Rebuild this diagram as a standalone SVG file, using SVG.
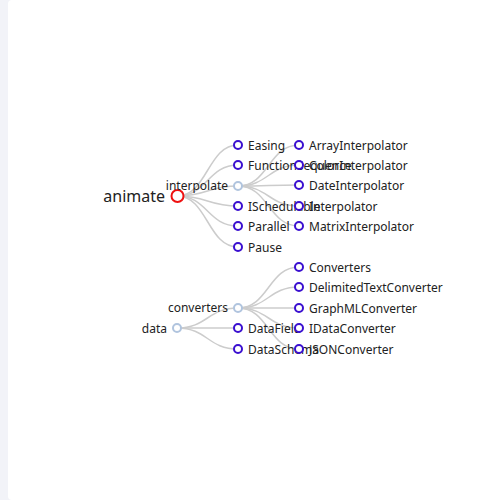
<svg xmlns="http://www.w3.org/2000/svg" width="500" height="500" viewBox="0 0 500 500">
<style>
.e{fill:none;stroke:#cccccc;stroke-width:1.5}
.leaf{fill:#fff;stroke:#3a0fd0;stroke-width:2}
.inner{fill:#fff;stroke:#b0c4de;stroke-width:2}
.root{fill:#fff;stroke:#ee1111;stroke-width:2}
text{font-family:"Noto Sans","Liberation Sans",sans-serif;font-size:12px;fill:#222;dominant-baseline:central}
.l{text-anchor:end}
</style>
<rect x="0" y="0" width="500" height="500" fill="#f2f3f8"/>
<rect x="8" y="0" width="500" height="500" rx="4" fill="#ffffff"/>
<g id="connectors">
<path class="e" d="M177,196 C207.5,196 207.5,145 238,145"/>
<path class="e" d="M177,196 C207.5,196 207.5,165 238,165"/>
<path class="e" d="M177,196 C207.5,196 207.5,186 238,186"/>
<path class="e" d="M177,196 C207.5,196 207.5,206 238,206"/>
<path class="e" d="M177,196 C207.5,196 207.5,226 238,226"/>
<path class="e" d="M177,196 C207.5,196 207.5,247 238,247"/>
<path class="e" d="M238,186 C268.5,186 268.5,145 299,145"/>
<path class="e" d="M238,186 C268.5,186 268.5,165 299,165"/>
<path class="e" d="M238,186 C268.5,186 268.5,185 299,185"/>
<path class="e" d="M238,186 C268.5,186 268.5,206 299,206"/>
<path class="e" d="M238,186 C268.5,186 268.5,226 299,226"/>
<path class="e" d="M177,328 C207.5,328 207.5,308 238,308"/>
<path class="e" d="M177,328 C207.5,328 207.5,328 238,328"/>
<path class="e" d="M177,328 C207.5,328 207.5,349 238,349"/>
<path class="e" d="M238,308 C268.5,308 268.5,267 299,267"/>
<path class="e" d="M238,308 C268.5,308 268.5,287 299,287"/>
<path class="e" d="M238,308 C268.5,308 268.5,308 299,308"/>
<path class="e" d="M238,308 C268.5,308 268.5,328 299,328"/>
<path class="e" d="M238,308 C268.5,308 268.5,349 299,349"/>
</g>
<g id="animate"><circle class="root" cx="177.5" cy="196" r="6"/><text class="l" x="165" y="196" style="font-size:16px">animate</text></g>
<g id="Easing"><circle class="leaf" cx="238" cy="145" r="4"/><text x="248" y="145">Easing</text></g>
<g id="FunctionSequence"><circle class="leaf" cx="238" cy="165" r="4"/><text x="248" y="165">FunctionSequence</text></g>
<g id="interpolate"><circle class="inner" cx="238" cy="186" r="4"/><text class="l" x="228" y="185">interpolate</text></g>
<g id="ISchedulable"><circle class="leaf" cx="238" cy="206" r="4"/><text x="248" y="206">ISchedulable</text></g>
<g id="Parallel"><circle class="leaf" cx="238" cy="226" r="4"/><text x="248" y="226">Parallel</text></g>
<g id="Pause"><circle class="leaf" cx="238" cy="247" r="4"/><text x="248" y="247">Pause</text></g>
<g id="ArrayInterpolator"><circle class="leaf" cx="299" cy="145" r="4"/><text x="309" y="145">ArrayInterpolator</text></g>
<g id="ColorInterpolator"><circle class="leaf" cx="299" cy="165" r="4"/><text x="309" y="165">ColorInterpolator</text></g>
<g id="DateInterpolator"><circle class="leaf" cx="299" cy="185" r="4"/><text x="309" y="185">DateInterpolator</text></g>
<g id="Interpolator"><circle class="leaf" cx="299" cy="206" r="4"/><text x="309" y="206">Interpolator</text></g>
<g id="MatrixInterpolator"><circle class="leaf" cx="299" cy="226" r="4"/><text x="309" y="226">MatrixInterpolator</text></g>
<g id="data"><circle class="inner" cx="177" cy="328" r="4"/><text class="l" x="167" y="328">data</text></g>
<g id="converters"><circle class="inner" cx="238" cy="308" r="4"/><text class="l" x="228" y="307">converters</text></g>
<g id="DataField"><circle class="leaf" cx="238" cy="328" r="4"/><text x="248" y="328">DataField</text></g>
<g id="DataSchema"><circle class="leaf" cx="238" cy="349" r="4"/><text x="248" y="349">DataSchema</text></g>
<g id="Converters"><circle class="leaf" cx="299" cy="267" r="4"/><text x="309" y="267">Converters</text></g>
<g id="DelimitedTextConverter"><circle class="leaf" cx="299" cy="287" r="4"/><text x="309" y="287">DelimitedTextConverter</text></g>
<g id="GraphMLConverter"><circle class="leaf" cx="299" cy="308" r="4"/><text x="309" y="308">GraphMLConverter</text></g>
<g id="IDataConverter"><circle class="leaf" cx="299" cy="328" r="4"/><text x="309" y="328">IDataConverter</text></g>
<g id="JSONConverter"><circle class="leaf" cx="299" cy="349" r="4"/><text x="309" y="349">JSONConverter</text></g>
</svg>
